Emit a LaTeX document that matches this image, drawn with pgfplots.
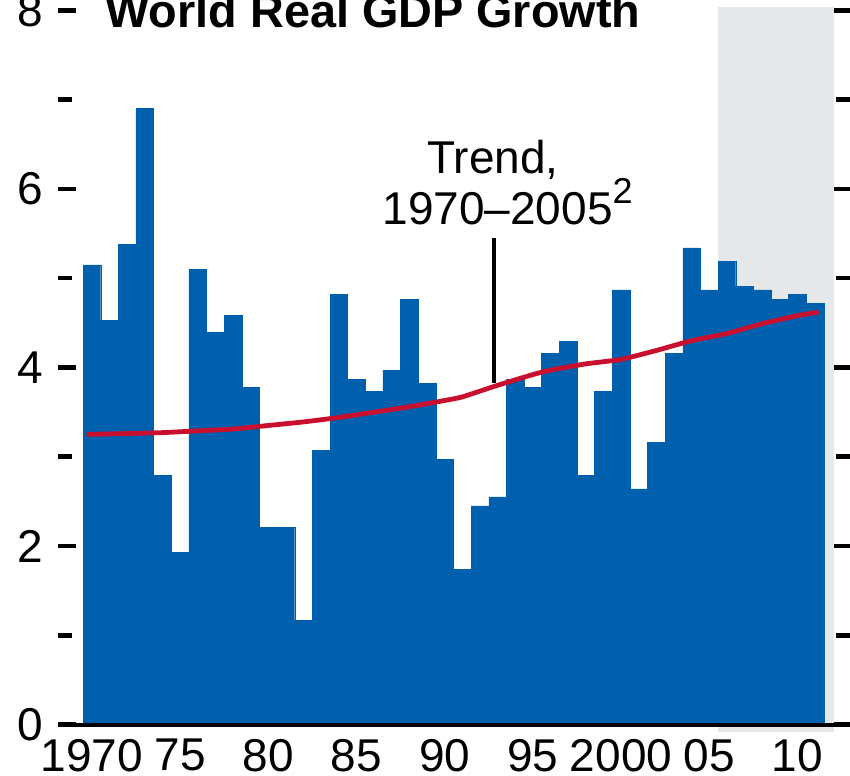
\documentclass[border=0pt]{standalone}
\usepackage{fontspec}
\setmainfont{Liberation Sans}
\usepackage{pgfplots}
\pgfplotsset{compat=1.18}
\definecolor{barblue}{RGB}{0,96,174}
\definecolor{trendred}{RGB}{200,16,46}
\definecolor{projgray}{RGB}{230,231,233}
\begin{document}
\begin{tikzpicture}
\begin{axis}[
  x=8.82pt, y=44.65pt,
  xmin=1968.08, xmax=2012.98,
  ymin=0, ymax=8,
  clip=false,
  axis line style={draw=none},
  xtick={1970,1975,1980,1985,1990,1995,2000,2005,2010},
  xticklabels={1970,75,80,85,90,95,2000,05,10},
  xtick style={draw=none},
  ytick={0,2,4,6,8},
  minor ytick={1,3,5,7},
  ytick pos=both,
  yticklabel pos=left,
  tick align=inside,
  ytick style={line width=2.3pt, black},
  major tick length=9pt,
  minor tick length=7pt,
  /pgf/number format/assume math mode=true,
  ticklabel style={font=\fontsize{23}{23}\selectfont},
  yticklabel style={inner sep=0pt, xshift=-7.5pt},
  xticklabel style={inner sep=0pt, yshift=-7.0pt},
]
\fill[projgray] (axis cs:2005.5,-0.08) rectangle (axis cs:2012.07,8.04);
\addplot[ybar, bar width=8.82pt, fill=barblue, draw=barblue, line width=0.2pt] table {
x y
1970 5.15
1971 4.53
1972 5.38
1973 6.90
1974 2.79
1975 1.93
1976 5.10
1977 4.39
1978 4.58
1979 3.78
1980 2.21
1981 2.21
1982 1.17
1983 3.07
1984 4.82
1985 3.87
1986 3.73
1987 3.97
1988 4.76
1989 3.82
1990 2.97
1991 1.74
1992 2.45
1993 2.55
1994 3.87
1995 3.78
1996 4.16
1997 4.29
1998 2.79
1999 3.73
2000 4.87
2001 2.64
2002 3.16
2003 4.16
2004 5.34
2005 4.87
2006 5.19
2007 4.91
2008 4.87
2009 4.76
2010 4.82
2011 4.72
};
\addplot[trendred, line width=2.4pt, smooth, tension=0.3] table {
x y
1969.7 3.25
1972 3.26
1974 3.27
1976 3.29
1978 3.31
1980 3.35
1982 3.39
1984 3.44
1986 3.50
1988 3.56
1990 3.63
1991 3.67
1993 3.80
1995 3.92
1996 3.97
1998 4.04
2000 4.09
2002 4.19
2004 4.30
2006 4.38
2008 4.49
2010 4.58
2011.2 4.62
};
\draw[black, line width=2pt] (axis cs:1968.08,0) -- (axis cs:2012.98,0);
\draw[black, line width=2.1pt] (axis cs:1992.8,5.45) -- (axis cs:1992.8,3.83);
\node[anchor=base west, inner sep=0pt, font=\bfseries\fontsize{23.4}{23.4}\selectfont] at (axis cs:1970.75,7.81) {World Real GDP Growth};
\node[anchor=base west, inner sep=0pt, font=\fontsize{23}{23}\selectfont] at (axis cs:1989.0,6.17) {Trend,};
\node[anchor=base west, inner sep=0pt, font=\fontsize{23}{23}\selectfont] at (axis cs:1986.45,5.60) {1970–2005\raisebox{10.5pt}{\fontsize{18}{18}\selectfont 2}};
\coordinate (bl) at (axis cs:1964.79,-0.574);
\coordinate (tr) at (axis cs:2012.98,8.115);
\end{axis}
\pgfresetboundingbox
\path (bl) rectangle (tr);
\end{tikzpicture}
\end{document}
